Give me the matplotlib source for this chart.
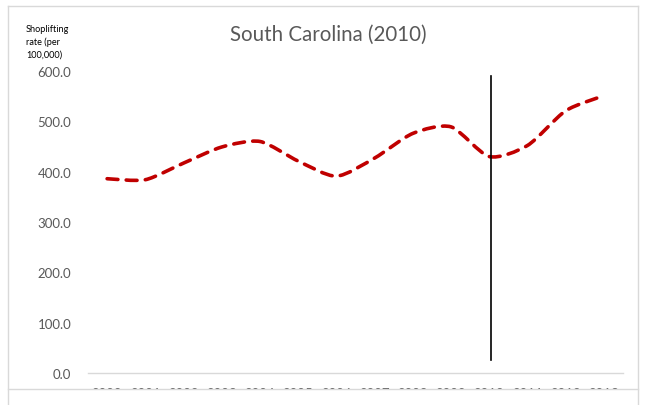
import numpy as np
import matplotlib
matplotlib.use("Agg")
import matplotlib.pyplot as plt
from matplotlib.path import Path
from matplotlib.patches import PathPatch, Rectangle
from matplotlib.lines import Line2D

years = ["2000", "2001", "2002", "2003", "2004", "2005", "2006",
         "2007", "2008", "2009", "2010", "2011", "2012", "2013"]
rates = [386, 384, 417, 449, 460, 421, 391, 427, 476, 489, 430, 452, 521, 551]
marker_year_index = 10
marker_range = [25, 590]
yticks = [0, 100, 200, 300, 400, 500, 600]
title = "South Carolina (2010)"
ylabel = "Shoplifting\nrate (per\n100,000)"

plt.rcParams['font.family'] = ['Lato', 'DejaVu Sans']

W, H = 646, 406
fig = plt.figure(figsize=(W / 100, H / 100), dpi=100)
ax = fig.add_axes([88 / W, 1 - 374 / H, (623 - 88) / W, (374 - 72) / H])

x = np.arange(len(years))
y = np.array(rates, dtype=float)

# smooth curve rendered through Bezier path in data coords
k = 1.0 / 8.0
verts = [(x[0], y[0])]
codes = [Path.MOVETO]
n = len(x)
for i in range(n - 1):
    p0 = np.array([x[max(i - 1, 0)], y[max(i - 1, 0)]])
    p1 = np.array([x[i], y[i]])
    p2 = np.array([x[i + 1], y[i + 1]])
    p3 = np.array([x[min(i + 2, n - 1)], y[min(i + 2, n - 1)]])
    c1 = p1 + (p2 - p0) * k
    c2 = p2 - (p3 - p1) * k
    verts += [tuple(c1), tuple(c2), tuple(p2)]
    codes += [Path.CURVE4] * 3
path = Path(verts, codes)
patch = PathPatch(path, facecolor='none', edgecolor='#C00000', lw=2.6,
                  linestyle=(0, (3.0, 2.3)), capstyle='round', zorder=3)
ax.add_patch(patch)

ax.plot([marker_year_index + 0.05] * 2, marker_range, color='black', lw=1.2, zorder=4)

ax.set_xlim(-0.5, n - 0.5)
ax.set_ylim(0, 600)
ax.set_xticks(x)
ax.set_xticklabels(years)
ax.set_yticks(yticks)
ax.set_yticklabels([f"{v:.1f}" for v in yticks])
for s in ['top', 'right', 'left']:
    ax.spines[s].set_visible(False)
ax.spines['bottom'].set_color('#d9d9d9')
ax.spines['bottom'].set_linewidth(1.0)
ax.tick_params(axis='both', length=0, labelsize=9.5, labelcolor='#595959')
ax.tick_params(axis='x', pad=10)
ax.tick_params(axis='y', pad=12)

fig.text(328 / W, 1 - 35 / H, title, ha='center', va='center', fontsize=14.8, color='#595959')
fig.text(26 / W, 1 - 25 / H, ylabel, ha='left', va='top', fontsize=6.6, color='black',
         linespacing=1.45)

# clip region below chart area
fig.patches.append(Rectangle((0, 0), 1, 1 - 391 / H, transform=fig.transFigure,
                             facecolor='white', edgecolor='none', zorder=10))
bc = '#d9d9d9'
fig.lines.append(Line2D([8 / W, 638 / W], [1 - 390 / H] * 2, transform=fig.transFigure, color=bc, lw=1, zorder=11))
fig.lines.append(Line2D([8 / W, 638 / W], [1 - 7 / H] * 2, transform=fig.transFigure, color=bc, lw=1, zorder=11))
fig.lines.append(Line2D([8 / W] * 2, [0, 1 - 7 / H], transform=fig.transFigure, color=bc, lw=1, zorder=11))
fig.lines.append(Line2D([638 / W] * 2, [0, 1 - 7 / H], transform=fig.transFigure, color=bc, lw=1, zorder=11))

fig.savefig("out.png", dpi=100, facecolor='white')
